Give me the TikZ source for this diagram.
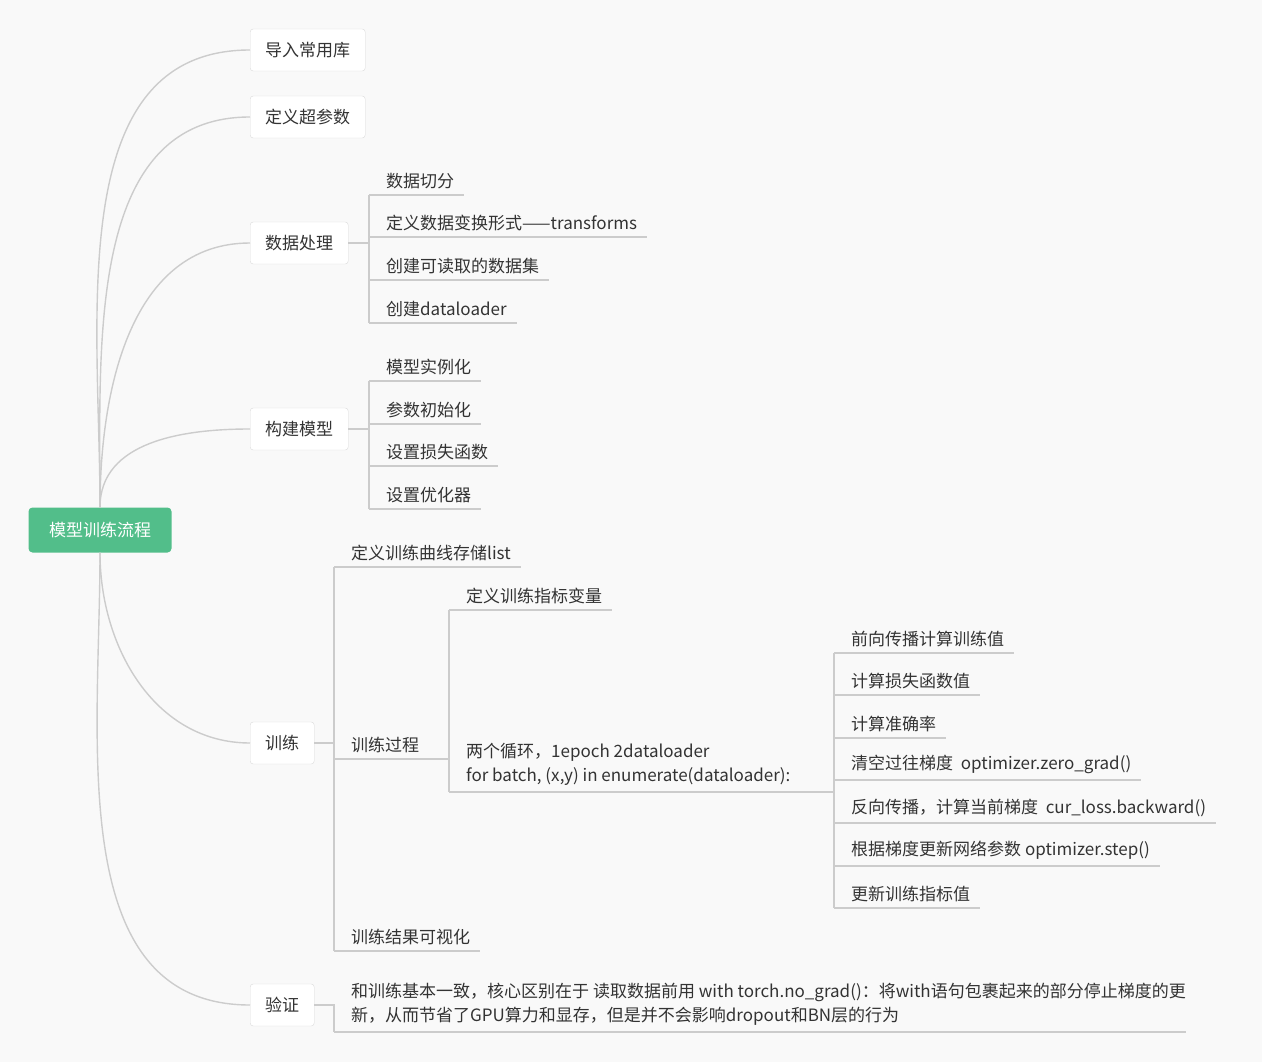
\documentclass[tikz,border=0pt]{standalone}
\usepackage{fontspec}
\setmainfont{Noto Sans CJK SC}
\usetikzlibrary{positioning}
\definecolor{bgc}{HTML}{F9F9F9}
\definecolor{rootc}{HTML}{52BE8A}
\definecolor{linec}{HTML}{CCCCCC}
\definecolor{txtc}{HTML}{333333}
\tikzset{
  rootbox/.style={fill=rootc, rounded corners=4pt, text=white, minimum height=45pt, minimum width=143pt, inner sep=0pt},
  topbox/.style={anchor=west, fill=white, draw=linec!70, rounded corners=3pt, minimum height=42pt, inner xsep=15pt, text=txtc},
  leaf/.style={anchor=south west, inner xsep=0pt, inner ysep=6pt, text=txtc, align=left},
  conn/.style={draw=linec, line width=1.4pt},
  ul/.style={draw=linec, line width=1.4pt}
}
\newcommand{\lf}[1]{\hspace{17pt}#1\hspace{10pt}}
\begin{document}
\begin{tikzpicture}[x=1pt,y=-1pt,font=\fontsize{17}{24}\selectfont]
\fill[bgc] (0,0) rectangle (1262,1062);
\useasboundingbox (0,0) rectangle (1262,1062);

\node[rootbox] (root) at (100,530) {模型训练流程};

% first level
\node[topbox] (imp) at (250,50) {导入常用库};
\node[topbox] (hyp) at (250,117) {定义超参数};
\node[topbox] (data) at (250,243) {数据处理};
\node[topbox] (model) at (250,429) {构建模型};
\node[topbox] (train) at (250,743) {训练};
\node[topbox] (val) at (250,1005) {验证};

\foreach \n in {imp,hyp,data,model}
  \draw[conn] (root.north) to[out=90,in=180] (\n.west);
\foreach \n in {train,val}
  \draw[conn] (root.south) to[out=-90,in=180] (\n.west);

% data processing
\node[leaf] (d1) at (369,195) {\lf{数据切分}};
\node[leaf] (d2) at (369,237) {\lf{定义数据变换形式——transforms}};
\node[leaf] (d3) at (369,280) {\lf{创建可读取的数据集}};
\node[leaf] (d4) at (369,323) {\lf{创建dataloader}};
\draw[conn] (data.east) -- (d1.south west |- data.east);
\draw[conn] (d1.south west) -- (d4.south west);
\foreach \n in {d1,d2,d3,d4}
  \draw[ul] (\n.south west) -- (\n.south east);

% model
\node[leaf] (m1) at (369,381) {\lf{模型实例化}};
\node[leaf] (m2) at (369,424) {\lf{参数初始化}};
\node[leaf] (m3) at (369,466) {\lf{设置损失函数}};
\node[leaf] (m4) at (369,509) {\lf{设置优化器}};
\draw[conn] (model.east) -- (m1.south west |- model.east);
\draw[conn] (m1.south west) -- (m4.south west);
\foreach \n in {m1,m2,m3,m4}
  \draw[ul] (\n.south west) -- (\n.south east);

% training
\node[leaf] (t1) at (334,567) {\lf{定义训练曲线存储list}};
\node[leaf] (t2) at (334,759) {\lf{训练过程}};
\node[leaf] (t3) at (334,951) {\lf{训练结果可视化}};
\draw[conn] (train.east) -- (t1.south west |- train.east);
\draw[conn] (t1.south west) -- (t3.south west);
\foreach \n in {t1,t2,t3}
  \draw[ul] (\n.south west) -- (\n.south east);

\node[leaf] (p1) at (449,610) {\lf{定义训练指标变量}};
\node[leaf] (p2) at (449,792) {\lf{两个循环，1epoch 2dataloader}\\\lf{for batch, (x,y) in enumerate(dataloader):}};
\draw[conn] (t2.south east) -- (p1.south west |- t2.south east);
\draw[conn] (p1.south west) -- (p2.south west);
\foreach \n in {p1,p2}
  \draw[ul] (\n.south west) -- (\n.south east);

\node[leaf] (l1) at (834,653) {\lf{前向传播计算训练值}};
\node[leaf] (l2) at (834,695) {\lf{计算损失函数值}};
\node[leaf] (l3) at (834,738) {\lf{计算准确率}};
\node[leaf] (l4) at (834,780) {\lf{清空过往梯度\ \ optimizer.zero\_grad()}};
\node[leaf] (l5) at (834,823) {\lf{反向传播，计算当前梯度\ \ cur\_loss.backward()}};
\node[leaf] (l6) at (834,866) {\lf{根据梯度更新网络参数 optimizer.step()}};
\node[leaf] (l7) at (834,908) {\lf{更新训练指标值}};
\draw[conn] (p2.south east) -- (l1.south west |- p2.south east);
\draw[conn] (l1.south west) -- (l7.south west);
\foreach \n in {l1,l2,l3,l4,l5,l6,l7}
  \draw[ul] (\n.south west) -- (\n.south east);

% validation
\node[leaf] (v1) at (334,1032) {\lf{和训练基本一致，核心区别在于 读取数据前用 with torch.no\_grad()：将with语句包裹起来的部分停止梯度的更}\\\lf{新，从而节省了GPU算力和显存，但是并不会影响dropout和BN层的行为}};
\draw[conn] (val.east) -- (v1.south west |- val.east) -- (v1.south west);
\draw[ul] (v1.south west) -- (v1.south east);
\end{tikzpicture}
\end{document}
